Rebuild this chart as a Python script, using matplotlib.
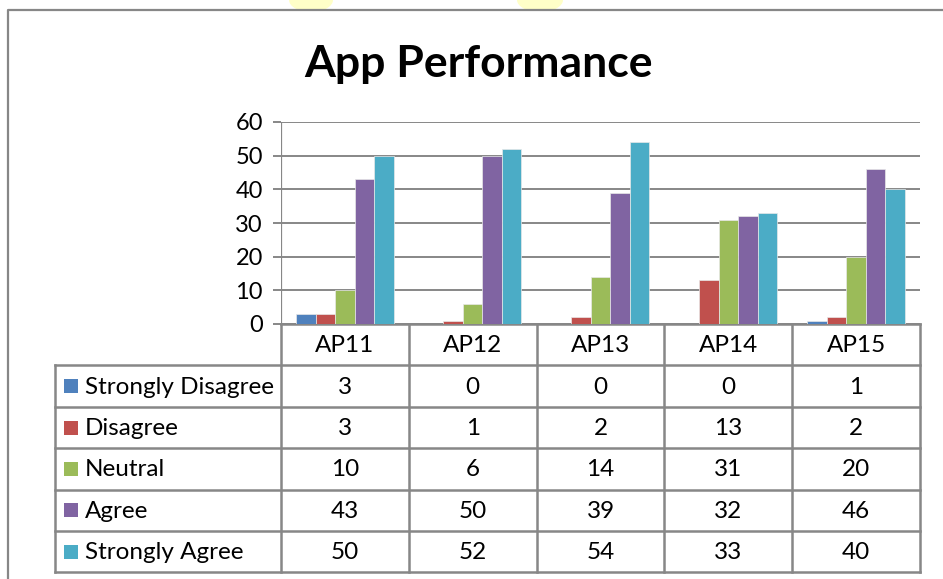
import matplotlib
matplotlib.use("Agg")
import matplotlib.pyplot as plt
from matplotlib.patches import Rectangle, Ellipse

# ---------------------------------------------------------------------------
# Data
# ---------------------------------------------------------------------------
categories = ["AP11", "AP12", "AP13", "AP14", "AP15"]
series_names = ["Strongly Disagree", "Disagree", "Neutral", "Agree", "Strongly Agree"]
strongly_disagree = [3, 0, 0, 0, 1]
disagree          = [3, 1, 2, 13, 2]
neutral           = [10, 6, 14, 31, 20]
agree             = [43, 50, 39, 32, 46]
strongly_agree    = [50, 52, 54, 33, 40]
y_ticks = [0, 10, 20, 30, 40, 50, 60]

series = [strongly_disagree, disagree, neutral, agree, strongly_agree]
colors = ["#4F81BD", "#C0504D", "#9BBB59", "#8064A2", "#4BACC6"]

# ---------------------------------------------------------------------------
# Geometry (pixels of the 943x579 canvas)
# ---------------------------------------------------------------------------
W, H = 943, 579
PLOT_L, PLOT_R = 281, 920
PLOT_T, PLOT_B = 122, 324
TAB_L = 55
ROW_H = 41.4
GRID_COL = "#878787"
FONT = "Lato"
FS_TAB = 17.5
FS_TICK = 17

plt.rcParams["font.family"] = [FONT, "DejaVu Sans"]

fig = plt.figure(figsize=(W / 100, H / 100), dpi=100)

# overlay axes in pixel coordinates for frame and table
ov = fig.add_axes([0, 0, 1, 1])
ov.set_xlim(0, W)
ov.set_ylim(H, 0)
ov.axis("off")

# faint yellow blobs peeking over the top edge (page background)
for cx, w in [(311, 44), (540, 46)]:
    ov.add_patch(Ellipse((cx, 0), w, 24, facecolor="#FFFFC8", edgecolor="none",
                         zorder=0))

# chart frame (left and top edges visible)
ov.add_patch(Rectangle((8, 10), W, H, facecolor="white", edgecolor="none", zorder=0.5))
ov.plot([8, 8, W + 5], [H + 5, 10, 10], color=GRID_COL, lw=1.6, solid_capstyle="butt")

# bar axes
ax = fig.add_axes([PLOT_L / W, 1 - PLOT_B / H,
                   (PLOT_R - PLOT_L) / W, (PLOT_B - PLOT_T) / H])
ax.set_xlim(0, len(categories))
ax.set_ylim(0, 60)
ax.set_facecolor("none")
for s in ax.spines.values():
    s.set_visible(False)
ax.set_yticks(y_ticks)
ax.set_xticks([])
ax.tick_params(axis="y", length=6, width=1.4, color=GRID_COL, pad=7,
               labelsize=FS_TICK)
ax.yaxis.grid(True, color=GRID_COL, lw=1.4)
ax.set_axisbelow(True)
ax.axvline(0, color=GRID_COL, lw=1.6)

bw = 19.5 / 128
for j, (vals, c) in enumerate(zip(series, colors)):
    xs = [i + 0.5 + (j - 2) * bw for i in range(len(categories))]
    ax.bar(xs, vals, width=bw, color=c, edgecolor="#e8e8e8", linewidth=0.5,
           zorder=3)

# title
ov.text(479, 77, "App Performance", ha="center", va="baseline",
        fontsize=32, fontweight="bold")

# ---------------------------------------------------------------------------
# Data table
# ---------------------------------------------------------------------------
col_w = (PLOT_R - PLOT_L) / len(categories)
tab_lw = 1.8
header_b = PLOT_B + ROW_H
tab_b = header_b + ROW_H * len(series_names)

# header row
ov.plot([PLOT_L, PLOT_R], [PLOT_B, PLOT_B], color=GRID_COL, lw=tab_lw)
for i in range(len(categories) + 1):
    x = PLOT_L + i * col_w
    ov.plot([x, x], [PLOT_B, tab_b], color=GRID_COL, lw=tab_lw)
for i, cat in enumerate(categories):
    ov.text(PLOT_L + (i + 0.5) * col_w, PLOT_B + ROW_H / 2 + 1, cat,
            ha="center", va="center", fontsize=FS_TAB)

# body rows
for r in range(len(series_names) + 1):
    y = header_b + r * ROW_H
    ov.plot([TAB_L, PLOT_R], [y, y], color=GRID_COL, lw=tab_lw)
ov.plot([TAB_L, TAB_L], [header_b, tab_b], color=GRID_COL, lw=tab_lw)

for r, (name, vals, c) in enumerate(zip(series_names, series, colors)):
    yc = header_b + (r + 0.5) * ROW_H
    ov.add_patch(Rectangle((64, yc - 7), 14, 14, facecolor=c, edgecolor="none"))
    ov.text(85, yc + 1, name, ha="left", va="center", fontsize=FS_TAB)
    for i, v in enumerate(vals):
        ov.text(PLOT_L + (i + 0.5) * col_w, yc + 1, str(v),
                ha="center", va="center", fontsize=FS_TAB)

fig.savefig("out.png", dpi=100)
